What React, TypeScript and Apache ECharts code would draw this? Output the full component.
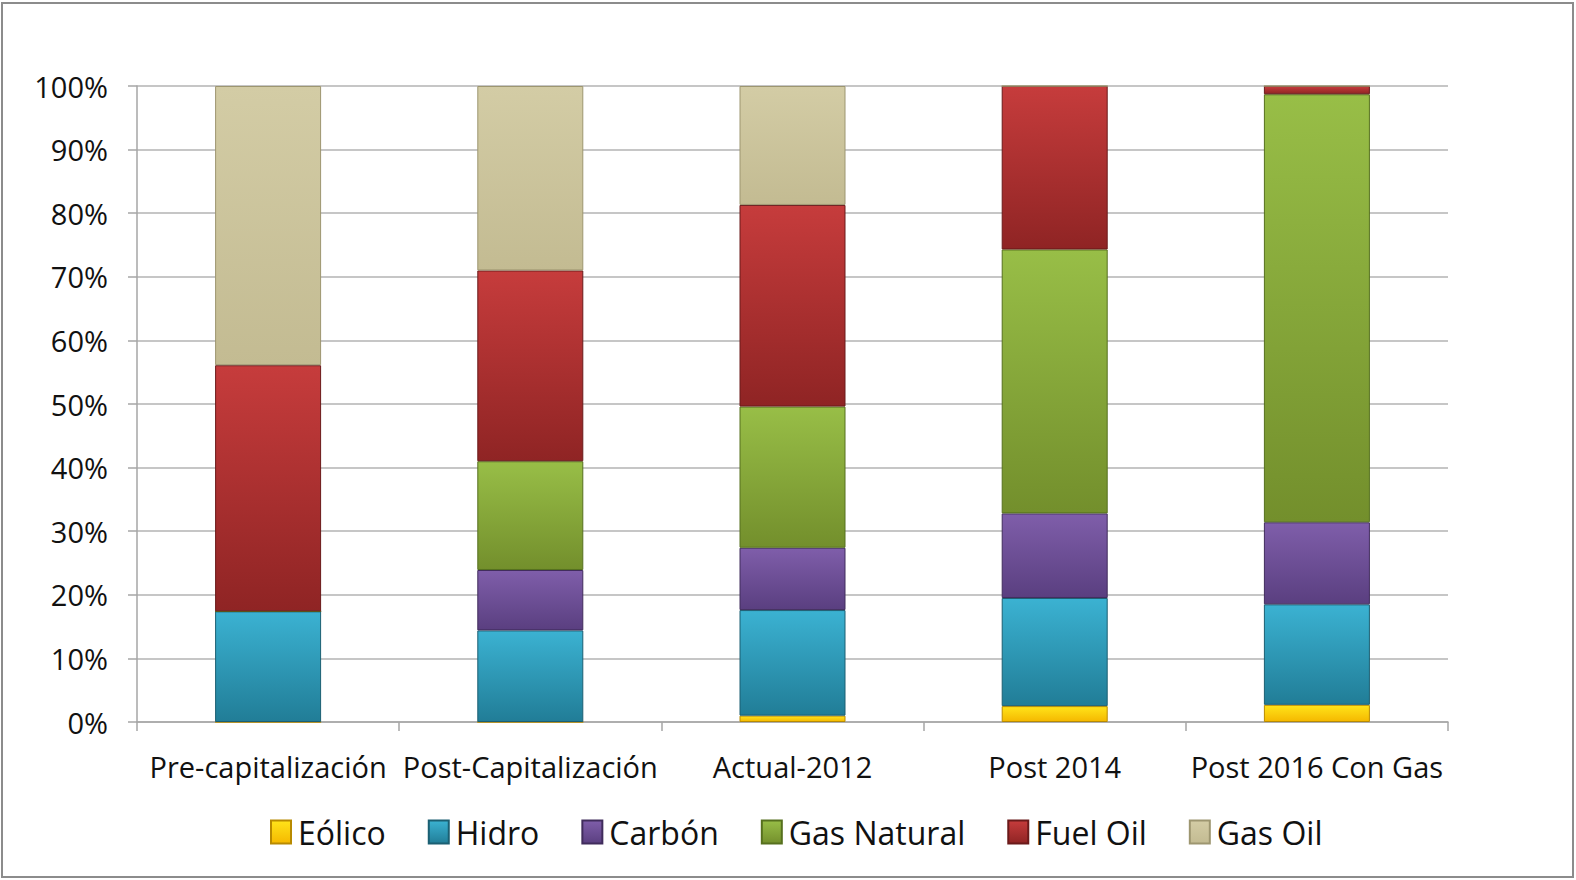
import React, { useEffect, useRef } from "react";
import * as echarts from "echarts";

const categories = ["Pre-capitalización", "Post-Capitalización", "Actual-2012", "Post 2014", "Post 2016 Con Gas"];
const seriesNames = ["Eólico", "Hidro", "Carbón", "Gas Natural", "Fuel Oil", "Gas Oil"];
const eolico = [0, 0, 1.0, 2.5, 2.7];
const hidro = [17.4, 14.4, 16.6, 17.0, 15.8];
const carbon = [0, 9.5, 9.8, 13.3, 12.9];
const gasNatural = [0, 17.1, 22.2, 41.5, 67.3];
const fuelOil = [38.7, 30.0, 31.7, 25.7, 1.3];
const gasOil = [43.9, 29.0, 18.7, 0, 0];
const yTicks = [0, 10, 20, 30, 40, 50, 60, 70, 80, 90, 100];

const colorPairs: [string, string, string][] = [
  ["#FFE41A", "#F5B800", "#B88A00"],
  ["#3BB2D2", "#217D97", "#1B5F72"],
  ["#7F5EAA", "#5A3F80", "#402C5C"],
  ["#98BE47", "#738F2C", "#56701E"],
  ["#C63C3C", "#8F2424", "#6A1A1A"],
  ["#D3CCA5", "#C3BB92", "#9D9670"],
];

export default function App() {
  const ref = useRef<HTMLDivElement>(null);
  useEffect(() => {
    if (!ref.current) return;
    const chart = echarts.init(ref.current, null, { renderer: "svg" });
    const data = [eolico, hidro, carbon, gasNatural, fuelOil, gasOil];
    const font = "'Open Sans', sans-serif";
    chart.setOption({
      animation: false,
      backgroundColor: "#ffffff",
      grid: { left: 137, right: 128, top: 86, bottom: 158 },
      legend: {
        data: seriesNames,
        left: 265,
        top: 811,
        itemWidth: 20,
        itemHeight: 23,
        itemGap: 42,
        textStyle: { fontFamily: font, fontSize: 32, color: "#111", padding: [0, 0, 0, 2] },
        icon: "rect",
      },
      xAxis: {
        type: "category",
        data: categories,
        axisLine: { lineStyle: { color: "#A6A6A6", width: 1.5 } },
        axisTick: { show: true, length: 9, lineStyle: { color: "#A6A6A6", width: 1.5 } },
        axisLabel: { fontFamily: font, fontSize: 29, color: "#111", margin: 30, interval: 0 },
      },
      yAxis: {
        type: "value",
        min: 0,
        max: 100,
        interval: 10,
        axisLine: { show: true, lineStyle: { color: "#A6A6A6", width: 1.5 } },
        axisTick: { show: true, length: 9, lineStyle: { color: "#A6A6A6", width: 1.5 } },
        splitLine: { lineStyle: { color: "#B3B3B3", width: 1.5 } },
        axisLabel: {
          fontFamily: font,
          fontSize: 29,
          color: "#111",
          margin: 29,
          formatter: (v: number) => (yTicks.includes(v) ? v + "%" : ""),
        },
      },
      graphic: [
        {
          type: "rect",
          shape: { x: 2, y: 3, width: 1571, height: 874 },
          style: { fill: "none", stroke: "#8C8C8C", lineWidth: 2 },
          silent: true,
        },
      ],
      series: data.map((d, i) => ({
        name: seriesNames[i],
        type: "bar",
        stack: "total",
        barWidth: 106,
        data: d,
        itemStyle: {
          color: new echarts.graphic.LinearGradient(0, 0, 0, 1, [
            { offset: 0, color: colorPairs[i][0] },
            { offset: 1, color: colorPairs[i][1] },
          ]),
          borderColor: colorPairs[i][2],
          borderWidth: 1,
        },
      })),
    });
    return () => chart.dispose();
  }, []);
  return (
    <div
      ref={ref}
      style={{ position: "fixed", left: 0, top: 0, width: 1576, height: 880 }}
    />
  );
}
